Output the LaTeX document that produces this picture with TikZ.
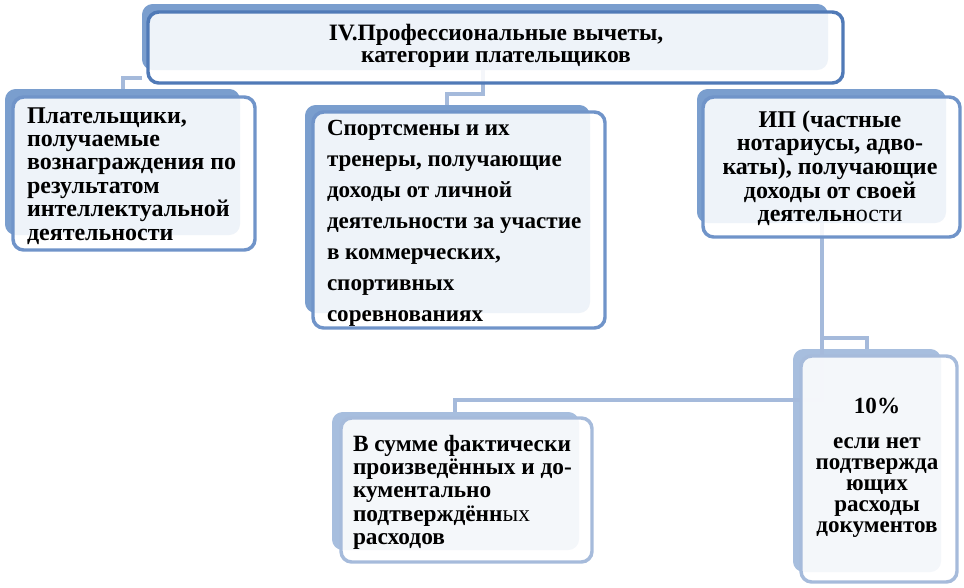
\documentclass[tikz,border=0pt]{standalone}
\usepackage{fontspec}
\setmainfont{Liberation Serif}
\definecolor{backA}{RGB}{122,158,206}
\definecolor{frameA}{RGB}{112,148,201}
\definecolor{frameTop}{RGB}{80,122,183}
\definecolor{backB}{RGB}{167,190,222}
\definecolor{frameB}{RGB}{166,187,219}
\definecolor{connC}{RGB}{165,186,219}
\tikzset{
  bx/.style={rectangle, rounded corners=8pt, inner sep=0pt, outer sep=0pt, anchor=north west},
  backbox/.style={bx, fill=#1},
  frontbox/.style={bx, draw=#1, line width=2.6pt, fill=white, fill opacity=0.88},
  conn/.style={draw=connC, line width=2.4pt},
  txt/.style 2 args={inner sep=0pt, outer sep=0pt, text=black, font={\fontsize{#1}{#2}\selectfont\bfseries}},
}
\newcommand{\firstrule}{\rule{0pt}{15pt}}
\begin{document}
\begin{tikzpicture}[x=0.75pt,y=-0.75pt]
\useasboundingbox (0,0) rectangle (964,587);
% back boxes
\node[backbox=backA, minimum width=514.5pt, minimum height=49.5pt] (topB) at (142,4) {};
\node[backbox=backA, minimum width=176.25pt, minimum height=109.5pt] (lB) at (5,89) {};
\node[backbox=backA, minimum width=213.75pt, minimum height=156pt] (mB) at (305,105) {};
\node[backbox=backA, minimum width=186.75pt, minimum height=100.5pt] (rB) at (697,89) {};
\node[backbox=backB, minimum width=111pt, minimum height=167.25pt] (pB) at (793,349) {};
\node[backbox=backB, minimum width=185.25pt, minimum height=103.5pt] (wB) at (332,412) {};
% connectors
\coordinate (j1) at (123,78);
\coordinate (j2) at (483,94);
\coordinate (j2a) at (447,94);
\coordinate (j3) at (822,338);
\coordinate (j3b) at (867,338);
\coordinate (j4) at (822,400);
\coordinate (j4b) at (455,400);
\draw[conn] (topB.west |- j1) -- (j1) -- (j1 |- lB.north);
\draw[conn] (j2 |- topB.south) -- (j2) -- (j2a) -- (j2a |- mB.north);
\draw[conn] (j3 |- rB.south) -- (j3) -- (j3b) -- (j3b |- pB.north);
\draw[conn] (j3) -- (j4) -- (j4b) -- (j4b |- wB.north);
% front boxes
\node[frontbox=frameTop, minimum width=521.25pt, minimum height=53.25pt] (topF) at (148,12) {};
\node[frontbox=frameA, minimum width=181.5pt, minimum height=114.75pt] (lF) at (13,97) {};
\node[frontbox=frameA, minimum width=219pt, minimum height=162pt] (mF) at (313,112) {};
\node[frontbox=frameA, minimum width=192.75pt, minimum height=105pt] (rF) at (703,97) {};
\node[frontbox=frameB, minimum width=117pt, minimum height=169.5pt] (pF) at (801,356) {};
\node[frontbox=frameB, minimum width=188.25pt, minimum height=108pt] (wF) at (341,418) {};
% texts
\node[txt={17.6pt}{16.5pt}, align=center, anchor=north] (topT) at (496,20)
  {\firstrule IV.Профессиональные вычеты,\\категории плательщиков};
\node[txt={18pt}{17.55pt}, align=left, anchor=north west] (lT) at (27,103)
  {\firstrule Плательщики,\\получаемые\\вознаграждения по\\результатом\\интеллектуальной\\деятельности};
\node[txt={17.3pt}{23.3pt}, align=left, anchor=north west] (mT) at (327,115)
  {\firstrule Спортсмены и их\\тренеры, получающие\\доходы от личной\\деятельности за участие\\в коммерческих,\\спортивных\\соревнованиях};
\node[txt={18pt}{17.8pt}, align=center, anchor=north] (rT) at (830,107)
  {\firstrule ИП (частные\\нотариусы, адво-\\каты), получающие\\доходы от своей\\деятельн{\mdseries ости}};
\node[txt={17.3pt}{15.9pt}, align=center, anchor=north] (pT) at (877,393)
  {\firstrule 10\%\\[10.4pt]если нет\\подтвержда\\ющих\\расходы\\документов};
\node[txt={17.5pt}{17.5pt}, align=left, anchor=north west] (wT) at (353,431)
  {\firstrule В сумме фактически\\произведённых и до-\\кументально\\подтверждённ{\mdseries ых}\\расходов};
\end{tikzpicture}
\end{document}
